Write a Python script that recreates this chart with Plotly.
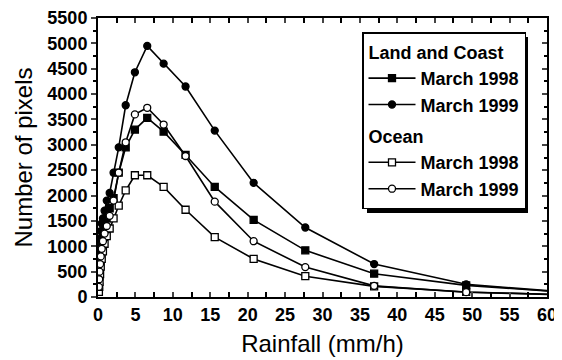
import plotly.graph_objects as go

# --- Data ---
rainfall = [0.12, 0.16, 0.21, 0.28, 0.37, 0.5, 0.66, 0.88, 1.17, 1.56, 2.08, 2.77,
            3.7, 4.93, 6.58, 8.77, 11.7, 15.6, 20.8, 27.7, 36.9, 49.2, 65.6]

land_1998 = [200, 400, 600, 750, 900, 1050, 1200, 1350, 1550, 1750, 1950, 2450,
             2950, 3300, 3530, 3260, 2800, 2170, 1520, 920, 460, 230, 60]
land_1999 = [350, 700, 950, 1150, 1300, 1450, 1550, 1700, 1900, 2050, 2450, 2950,
             3780, 4430, 4950, 4600, 4150, 3280, 2250, 1370, 650, 250, 60]
ocean_1998 = [100, 200, 300, 450, 600, 750, 900, 1050, 1200, 1350, 1550, 1800,
              2100, 2400, 2400, 2170, 1720, 1180, 750, 410, 210, 100, 30]
ocean_1999 = [200, 350, 500, 650, 800, 950, 1100, 1250, 1400, 1600, 1900, 2450,
              3050, 3600, 3730, 3400, 2780, 1880, 1100, 590, 220, 95, 30]

x_ticks = list(range(0, 65, 5))
y_ticks = list(range(0, 6000, 500))

FONT = "Liberation Sans, Arial, sans-serif"
BOLD = dict(family=FONT, size=18, color="black", weight="bold")

series = [
    ("March 1998", land_1998, "square", "black", "land", "Land and Coast"),
    ("March 1999", land_1999, "circle", "black", "land", "Land and Coast"),
    ("March 1998", ocean_1998, "square", "white", "ocean", "Ocean"),
    ("March 1999", ocean_1999, "circle", "white", "ocean", "Ocean"),
]

fig = go.Figure()
for name, values, symbol, fill, group, group_title in series:
    fig.add_trace(
        go.Scatter(
            x=rainfall,
            y=values,
            name=name,
            mode="lines+markers",
            line=dict(color="black", width=1.6),
            marker=dict(symbol=symbol, size=7, color=fill,
                        line=dict(color="black", width=1.3)),
            legendgroup=group,
            legendgrouptitle=dict(text=group_title, font=BOLD),
        )
    )

# invisible trace so the right-hand axis (inside ticks) gets drawn
fig.add_trace(go.Scatter(x=[0], y=[0], yaxis="y2", mode="markers",
                         marker=dict(opacity=0), showlegend=False, hoverinfo="skip"))

# page body has an 8px margin, so the figure is a bit smaller than the window
W, H = 554, 352
L, R, T, B = 90, 15, 10, 63
pw, ph = W - L - R, H - T - B


def px_x(px):
    # page pixel -> paper fraction
    return (px - 8 - L) / pw


def px_y(py):
    return (H - B - (py - 8)) / ph


# legend drop shadow
fig.add_shape(type="rect", xref="paper", yref="paper",
              x0=px_x(367), x1=px_x(528), y0=px_y(213), y1=px_y(37),
              fillcolor="black", line=dict(width=0), layer="above")

fig.update_layout(
    width=W,
    height=H,
    margin=dict(l=L, r=R, t=T, b=B),
    plot_bgcolor="white",
    paper_bgcolor="white",
    font=dict(family=FONT, size=18, color="black"),
    showlegend=True,
    legend=dict(
        x=px_x(362), y=px_y(32), xanchor="left", yanchor="top",
        bgcolor="white", bordercolor="black", borderwidth=1.5,
        font=BOLD,
        traceorder="grouped", tracegroupgap=5,
        itemwidth=47,
    ),
    xaxis=dict(
        range=[0, 60], tickvals=x_ticks, ticks="inside", ticklen=5,
        tickwidth=1.5, showline=True, linecolor="black", linewidth=2,
        mirror="allticks", showgrid=False, zeroline=False, automargin=False,
        minor=dict(dtick=2.5, ticks="inside", ticklen=3, tickcolor="black"),
        title=dict(text="Rainfall (mm/h)", font=dict(size=24), standoff=12),
        tickfont=BOLD,
    ),
    yaxis=dict(
        range=[0, 5500], tickvals=y_ticks, ticks="outside", ticklen=5,
        tickwidth=1.5, showline=True, linecolor="black", linewidth=2,
        showgrid=False, zeroline=False, automargin=False,
        minor=dict(dtick=250, ticks="outside", ticklen=3, tickcolor="black"),
        title=dict(text="Number of pixels", font=dict(size=24), standoff=8),
        tickfont=BOLD,
    ),
    yaxis2=dict(
        range=[0, 5500], overlaying="y", side="right", tickvals=y_ticks,
        ticks="inside", ticklen=5, tickwidth=1.5, showticklabels=False,
        showline=True, linecolor="black", linewidth=2, showgrid=False,
        zeroline=False, automargin=False,
        minor=dict(dtick=250, ticks="inside", ticklen=3, tickcolor="black"),
    ),
)

fig.write_html("out.html")
